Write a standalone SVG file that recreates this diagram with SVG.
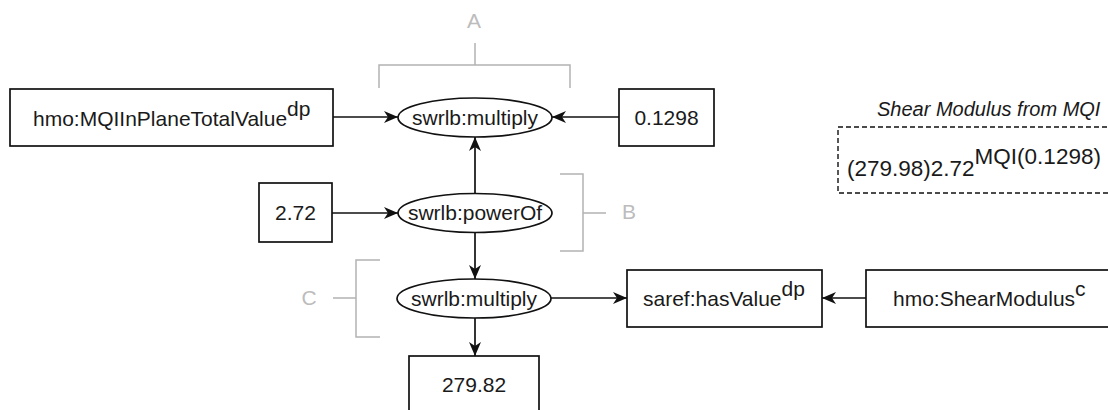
<svg xmlns="http://www.w3.org/2000/svg" width="1108" height="410" viewBox="0 0 1108 410">
<style>
.box{fill:#fff;stroke:#111;stroke-width:1.7}
.ell{fill:#fff;stroke:#111;stroke-width:1.7}
.t{font-family:"Liberation Sans",Arial,sans-serif;font-size:21px;fill:#1a1a1a}
.c{text-anchor:middle}
.edge{fill:none;stroke:#111;stroke-width:1.7}
.br{fill:none;stroke:#b3b3b3;stroke-width:1.5}
.bl{font-family:"Liberation Sans",Arial,sans-serif;font-size:21px;fill:#bcbcbc;text-anchor:middle}
.title{font-size:20px;font-style:italic}
.formula{font-size:22.5px}
</style>
<defs>
<marker id="arr" markerUnits="userSpaceOnUse" markerWidth="15" markerHeight="14" refX="14" refY="7" orient="auto">
<path d="M0,1 L14,7 L0,13 L4,7 Z" fill="#111"/>
</marker>
</defs>
<rect width="1108" height="410" fill="#fff"/>

<g id="brackets">
<path class="br" d="M379,88 V65 H570 V88 M475,65 V43"/>
<text class="bl" x="474" y="28">A</text>
<path class="br" d="M560,174 H583 V251 H560 M583,213 H606"/>
<text class="bl" x="629" y="219">B</text>
<path class="br" d="M380,260 H356 V337 H380 M356,298 H333"/>
<text class="bl" x="309" y="305">C</text>
</g>

<g id="connectors">
<line class="edge" x1="333" y1="117" x2="398" y2="117" marker-end="url(#arr)"/>
<line class="edge" x1="619" y1="117" x2="552" y2="117" marker-end="url(#arr)"/>
<line class="edge" x1="475" y1="194" x2="475" y2="137" marker-end="url(#arr)"/>
<line class="edge" x1="332" y1="213" x2="398" y2="213" marker-end="url(#arr)"/>
<line class="edge" x1="475" y1="232" x2="475" y2="279" marker-end="url(#arr)"/>
<line class="edge" x1="551" y1="298" x2="627" y2="298" marker-end="url(#arr)"/>
<line class="edge" x1="866" y1="298" x2="822" y2="298" marker-end="url(#arr)"/>
<line class="edge" x1="475" y1="318" x2="475" y2="356" marker-end="url(#arr)"/>
</g>

<g id="n-mqi">
<rect class="box" x="10" y="89" width="323" height="57"/>
<text class="t" x="33" y="126">hmo:MQIInPlaneTotalValue<tspan dy="-10">dp</tspan></text>
</g>
<g id="n-mult1">
<ellipse class="ell" cx="475" cy="117.5" rx="77" ry="19.5"/>
<text class="t c" x="475" y="124.5">swrlb:multiply</text>
</g>
<g id="n-01298">
<rect class="box" x="619" y="89" width="95" height="57"/>
<text class="t c" x="666.5" y="124.5">0.1298</text>
</g>
<g id="n-272">
<rect class="box" x="259" y="183" width="73" height="59"/>
<text class="t c" x="295.5" y="219.5">2.72</text>
</g>
<g id="n-pow">
<ellipse class="ell" cx="475" cy="213" rx="77" ry="19.5"/>
<text class="t c" x="475" y="220">swrlb:powerOf</text>
</g>
<g id="n-mult2">
<ellipse class="ell" cx="474" cy="298.5" rx="77" ry="19.5"/>
<text class="t c" x="474" y="305.5">swrlb:multiply</text>
</g>
<g id="n-27982">
<rect class="box" x="409" y="356" width="130" height="58"/>
<text class="t c" x="474" y="391.5">279.82</text>
</g>
<g id="n-hasvalue">
<rect class="box" x="627" y="270" width="195" height="57"/>
<text class="t" x="643" y="306">saref:hasValue<tspan dy="-10">dp</tspan></text>
</g>
<g id="n-shear">
<rect class="box" x="866" y="270" width="250" height="57"/>
<text class="t" x="893" y="306">hmo:ShearModulus<tspan dy="-10">c</tspan></text>
</g>
<g id="n-formula">
<text class="t title" x="877" y="116">Shear Modulus from MQI</text>
<rect x="838" y="127" width="290" height="66" fill="none" stroke="#111" stroke-width="1.4" stroke-dasharray="5 3"/>
<text class="t formula" x="847" y="176">(279.98)2.72<tspan dy="-12">MQI(0.1298)</tspan></text>
</g>
</svg>
